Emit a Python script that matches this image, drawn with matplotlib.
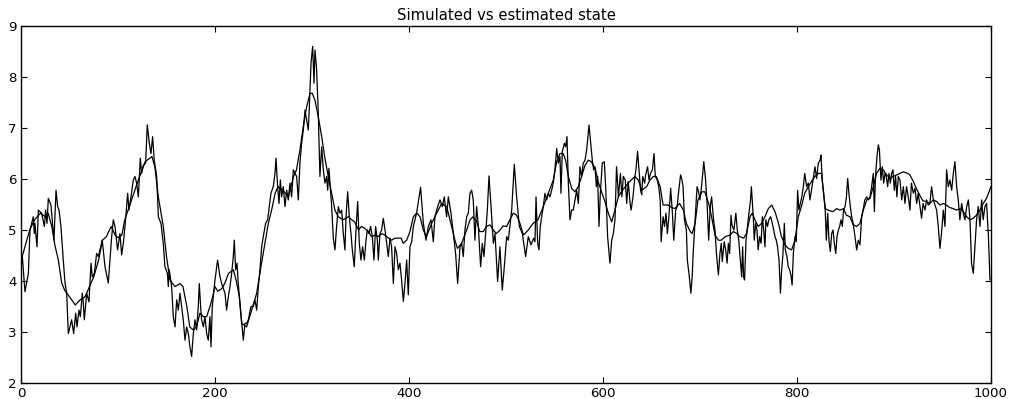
import matplotlib
matplotlib.use("Agg")
import matplotlib.pyplot as plt

# simulated state (noisy): time index / value
sim_t = [0, 1.4, 4.1, 7.6, 9.3, 12.7, 13.7, 14.4, 16.5, 17.9, 21.3, 24.1, 25.4, 26.8, 28.2, 30.9,
         34, 36.1, 37.8, 39.2, 41.2, 43.6, 45.4, 47.1, 48.8, 50.5, 52.2, 54.3, 56.4, 57.7, 59.8,
         61.2, 63.2, 64.3, 65.3, 67.7, 70.1, 72.2, 73.5, 75.6, 78, 79.7, 83.8, 86.6, 90, 91.7,
         93.5, 95.2,
         96.9, 99.6, 102, 103.8, 105.5, 107.2, 110, 111.3, 113.4, 115.8, 117.5, 119.2, 121, 123,
         124.4, 126.1, 128.5, 130.2, 132.3, 134, 135.7, 137.4, 139.9, 141.6, 144.3, 146.7, 148.4,
         150.9, 151.9, 152.9, 155.3, 157, 158.8, 160.5, 162.2, 163.9, 165.6, 167.3, 169.1, 170.8,
         172.5, 174.2, 175.9, 177.7, 179.4, 181.1, 182.8, 183.8, 185.2, 186.2, 188, 189.7, 191.4,
         193.1, 194.8, 195.9, 197.2, 200,
         202.7, 205.2, 206.9, 210.3, 212, 213.7, 215.5, 217.2, 218.9, 219.9, 221.3, 222.7, 224,
         225.8, 227.5, 229.2, 230.9, 232.6, 234.4, 237.1, 239.5, 241.2, 243, 244.7, 246.4, 248.1,
         249.8, 252.2, 254.3, 256, 257.7, 260.1, 261.9, 262.9, 264.6, 266, 267.4, 268.7, 270.4,
         272.2, 273.9, 275.6, 277.3, 279, 280.8, 282.5, 284.2, 285.9, 287.6, 289.3, 291.1, 292.8,
         294.5, 296.2, 297.3, 299, 300.7, 302.1, 303.1, 304.8, 306.5, 308.2, 310, 311.7, 313.4,
         315.1, 316.2, 317.5, 320.3, 322, 323.7, 325.4, 327.2, 328.9, 330.6, 332.3, 334, 335.1,
         336.8, 338.5, 340.2, 341.6, 343.6, 345.4, 347.1, 348.8, 350.5, 352.2, 354, 355.7, 357.1,
         358.8, 360.5, 362.2, 363.9, 365.6, 367.4, 368.4, 370.1, 371.8, 373.5, 375.3, 377, 378.7,
         380.4, 382.1, 383.9, 385.6, 387.3, 389, 390.7, 392.4, 394.2, 395.9, 397.6, 399.3, 401,
         402.8, 404.5,
         406.2, 408, 412, 414.8, 417.5, 420, 422.7, 425.1, 426.8, 429.6, 432, 434.4, 436.4, 438.8,
         440.6, 443.3, 445.7, 448.1, 450.2, 452.6, 454.3, 456, 457.7, 459.5, 461.2, 462.9, 464.6,
         466.3, 468, 469.8, 471.5, 473.9, 475.6, 477.3, 479, 480.8, 482.5, 484.6, 487, 488.7,
         491.4, 493.8, 496.2, 498.3, 500.7, 502.4, 505.9, 508.6,
         511, 513.8, 516.9, 518.9, 520.3, 523, 525.8, 528.5, 529.9, 531, 532.7, 534, 535.4, 536.8,
         538.5, 540.2, 542, 543.7, 545.4, 547.1, 548.8, 550.5, 552.3, 554, 555.7, 556.7, 558.1,
         560.2, 561.5, 562.9, 564.3, 566, 567.7, 569.4, 571.2, 572.9, 574.6, 576.3, 578, 579.7,
         581.5, 583.2, 585.6, 587.7, 589, 590.4, 591.8, 593.2, 594.5, 595.9, 597.3, 599.3, 601.4,
         602.8, 604.8, 606.2, 607.2, 609, 610.7,
         612.4, 614, 616, 618, 619.6, 621, 623, 624.5, 626, 628, 629, 631, 632.7, 634, 635.7,
         637.4, 638.8, 640, 641, 643, 644, 646, 647.5, 649, 651, 652.6, 654, 656, 657.5, 659, 660,
         662, 663.5, 665, 666.4, 668, 669.8, 671.6, 673, 675, 676.5, 678, 680, 681.5, 682.6, 684,
         686, 687, 689, 690.6, 692, 693, 694.6, 697, 698.6, 700, 701.6, 704, 705.8, 707.5, 709,
         710.6, 712, 714,
         715.5, 717, 719, 720.6, 722, 723, 725, 726.5, 728, 729.3, 730.6, 732, 733, 735, 737,
         738.5, 740, 741.6, 743, 744, 745, 746, 747.5, 749, 750.5, 752, 753, 755, 756, 757.4,
         758.8, 760, 761.5, 763, 764.3, 765.7, 767, 768, 769.6, 771, 772.9, 774.6, 776, 777.4,
         778.7, 780, 781.5, 783, 784, 785.6, 787, 788, 789.7, 791, 792.5, 794, 795, 796.3, 798,
         799.3, 800.7, 802, 803.5, 805, 806.6, 808, 810, 811.7, 813.4, 815,
         818.6, 820.3, 822, 823.8, 824.8, 826, 827.5, 829, 830.3, 831.7, 833, 834.4, 835.8, 837.2,
         838.5, 840, 841.3, 842.7, 844, 845.4, 846.8, 848, 849.6, 851, 852.3, 853.6, 855, 856.4,
         858, 859.8, 861.6, 863.3, 865, 866.7, 868.4, 870, 871.9, 873.6, 875.3, 877, 878.7, 879.8,
         881, 882.5, 883.9, 885, 886.6, 888, 889.4, 890.8, 892.1, 893.5, 894.9, 896.3, 897.6, 899,
         900.4, 901.7, 903, 904.5,
         906.2, 908, 909.7, 911.4, 913, 914.8, 916.5, 918, 920, 921.7, 923.4, 925, 926.8, 928.5,
         930, 932, 933.7, 935.4, 937, 938.8, 940.6, 942.3, 944, 945.7, 947.4, 949, 950.9, 952.6,
         954.3, 956, 957.7, 959.5, 961.2, 962.9, 964.6, 966.3, 968, 969.8, 971.5, 973.2, 975,
         976.7, 978.4, 980, 981.8, 983.5, 985.2, 986.9, 988.7, 990.4, 992, 993.8, 995.5, 997.3, 999]
sim_x = [4.22, 4.48, 3.79, 4.15, 5.0, 5.26, 4.93, 5.13, 4.67, 5.39, 5.33, 5.07, 5.39, 5.13, 5.62, 5.49,
         4.8, 5.78, 5.46, 5.39, 5.07, 4.41, 3.96, 3.76, 2.97, 3.1, 3.24, 2.97, 3.37, 3.1, 3.43,
         3.3, 3.76, 3.56, 3.24, 3.76, 3.59, 4.35, 4.08, 4.15, 4.54, 4.48, 4.8, 4.28, 3.96, 4.41,
         4.87, 5.2,
         5.07, 4.61, 4.93, 4.51, 4.74, 5.07, 5.72, 5.39, 5.65, 5.98, 6.05, 5.92, 5.65, 6.41,
         6.11, 6.27, 6.31, 7.06, 6.7, 6.5, 6.83, 6.37, 6.05, 5.26, 5.13, 4.74, 4.28,
         4.15, 3.89, 4.22, 3.89, 3.3, 3.1, 3.63, 3.43, 3.76, 3.5, 3.24, 2.84, 3.1,
         2.97, 2.71, 2.52, 2.97, 3.24, 3.04, 3.5, 3.95, 3.5, 3.24, 3.1, 3.3, 2.97,
         2.84, 3.3, 2.71, 3.5, 4.02,
         4.41, 4.08, 3.95, 3.76, 3.43, 3.69, 3.89, 4.15, 4.48, 4.8, 4.22, 4.35, 3.95,
         3.56, 3.17, 2.84, 3.17, 3.17, 3.24, 3.5, 3.5, 3.63, 3.43, 3.89, 4.22, 4.67,
         4.87, 5.13, 5.2, 5.46, 5.72, 5.85, 6.11, 6.41, 5.85, 5.52, 5.98, 5.65, 5.85,
         5.46, 5.78, 5.59, 5.92, 5.65, 6.18, 6.11, 6.05, 5.59, 6.31, 6.7, 6.96, 7.35,
         7.16, 6.96, 7.42, 8.27, 8.6, 7.88, 8.53, 8.14, 7.29, 6.05, 6.63, 6.18, 5.92,
         6.05, 5.78, 6.21, 5.46, 4.84, 4.61, 5.07, 5.46, 5.33, 5.39, 4.93, 4.61, 5.26,
         5.75, 5.26, 4.93, 4.61, 4.28, 5.0, 5.56, 4.74, 4.41, 4.67, 4.41, 4.8, 5.0,
         4.93, 5.07, 4.87, 4.41, 5.07, 4.8, 4.41, 4.93, 5.0, 5.23, 5.0, 4.74, 4.48,
         4.84, 4.67, 3.95, 4.67, 4.54, 4.22, 4.35, 4.02, 3.6, 3.95, 4.41, 3.73, 4.67,
         4.77, 5.07,
         5.2, 5.35, 5.84, 5.13, 4.8, 5.07, 5.2, 4.77, 5.26, 5.46, 5.59, 5.46, 5.65, 5.26,
         5.65, 5.33, 4.93, 4.54, 3.95, 4.67, 4.74, 4.48, 5.0, 5.26, 5.33, 5.72, 5.78,
         5.59, 4.8, 5.46, 5.07, 4.28, 4.74, 4.48, 4.93, 5.39, 6.06, 5.46, 4.74, 4.93,
         3.99, 4.67, 3.82, 4.28, 4.87, 4.8, 5.39, 6.29,
         5.65, 5.07, 4.93, 4.67, 4.48, 4.87, 4.71, 4.84, 4.77, 5.65, 4.74, 4.61, 5.07, 5.26,
         5.46, 5.72, 5.59, 5.72, 5.65, 5.78, 5.92, 6.18, 6.6, 6.31, 6.44, 5.72, 6.54,
         6.7, 6.63, 6.83, 5.92, 5.2, 5.39, 5.39, 5.59, 5.78, 5.52, 6.24, 6.05, 6.31,
         6.37, 6.57, 7.06, 6.63, 6.37, 6.18, 6.24, 5.85, 6.05, 5.07, 5.72, 6.31, 6.34,
         5.85, 4.87, 4.58, 4.35, 4.8, 4.93,
         5.2, 6.24, 5.65, 6.11, 5.65, 6.05, 5.98, 5.52, 5.95, 5.52, 5.39, 5.65, 6.01, 6.18, 6.54,
         6.11, 5.78, 5.69, 6.05, 5.92, 6.08, 6.24, 5.98, 6.11, 6.18, 6.5, 6.05, 5.98, 5.85, 5.59, 4.77,
         5.26, 5.07, 5.33, 4.93, 5.26, 5.82, 5.33, 4.8, 5.39, 5.46, 5.75, 6.08, 5.98, 5.85, 5.2,
         5.0, 4.41, 4.09, 3.76, 4.09, 4.54, 5.07, 5.85, 5.75, 5.59, 5.85, 6.34, 5.98, 5.46, 4.8,
         5.46, 5.65, 5.2,
         5.0, 4.54, 4.12, 4.54, 4.74, 4.38, 4.77, 4.61, 4.35, 4.74, 4.54, 5.29, 5.1, 5.0, 5.33,
         5.0, 4.8, 4.41, 4.08, 4.67, 4.08, 4.02, 4.8, 5.07, 5.33, 5.56, 5.85, 5.26, 4.8, 5.13,
         5.0, 4.61, 4.87, 4.74, 5.26, 5.0, 4.67, 5.2, 5.07, 5.2, 5.26, 5.13, 5.0, 4.87,
         4.8, 4.67, 4.41, 3.76, 4.15, 4.54, 5.13, 4.61, 4.48, 4.28, 4.22, 4.09, 3.92, 4.54, 4.87,
         4.77, 5.78, 5.39, 5.52, 5.65, 5.85, 6.11, 5.85, 5.92, 5.59, 5.78,
         6.24, 6.01, 6.31, 6.37, 6.47, 5.98, 5.72, 5.46, 4.8, 5.33, 4.8, 4.58, 4.93, 5.0,
         4.74, 4.54, 4.87, 5.0, 5.07, 5.2, 5.07, 5.39, 5.46, 5.65, 6.01, 5.72, 5.46, 5.26,
         5.13, 4.87, 4.61, 4.8, 4.71, 5.26, 5.42, 5.59, 5.65, 5.59, 5.65, 5.85, 6.11, 5.36,
         6.05, 6.44, 6.67, 6.57, 5.98, 6.24, 5.92, 6.11, 6.05, 5.85, 6.11, 5.92, 6.11, 6.18,
         5.78, 6.05, 5.65, 6.05,
         5.98, 5.59, 5.85, 5.52, 5.85, 5.65, 5.39, 5.92, 5.72, 5.82, 5.52, 5.72, 5.46, 5.23,
         5.52, 5.39, 5.59, 5.49, 5.52, 5.85, 5.59, 5.49, 5.39, 5.07, 4.64, 4.93, 5.39, 5.07,
         6.18, 5.85, 5.98, 5.78, 6.11, 6.34, 5.85, 5.59, 5.2, 5.52, 5.33, 5.2, 5.46,
         5.59, 5.2, 4.35, 4.15, 4.67, 5.2, 5.46, 5.07, 5.59, 5.2, 5.46, 5.52, 4.93, 4.02]

# estimated state (smooth)
est_t = [0, 9, 14, 20, 25, 28, 32, 35, 38.5, 42, 45, 50, 56, 61, 66, 69, 75, 80, 84, 88, 93, 97,
         100, 104, 107, 114, 121, 128, 135, 138, 141.6, 146.7, 150, 153.6, 158.8, 164, 167, 171,
         174, 177.7, 181, 184.5, 188, 191.4, 194.8, 197.6, 200, 203, 207, 210, 214, 219, 222, 225,
         227.5, 232.6, 237.8, 243, 248, 251.5, 255, 258.4, 262, 265, 270, 275.6, 281, 284, 287.6,
         291, 294.5, 298, 300.3, 303, 306.5, 310, 313.4, 316.8, 320.3, 323.7, 327, 332, 337.5,
         341, 344, 348, 351, 354.6, 358, 361.5, 365, 368, 372, 375, 379, 382, 385.6, 389, 392,
         394, 397.6, 401, 404.5, 408, 411.4, 414.8, 418, 423.4, 428.5, 433.7, 438.8, 444, 447.4,
         450, 454.3, 459.5, 463, 466, 470, 473, 476.6, 480, 483.5, 487, 490, 494, 497, 500.7, 504,
         507.6, 511, 514.4, 518, 523, 528, 533, 538.5, 543.7, 548.8, 552.3, 555.7, 559, 561.5,
         564.3, 567.7, 571, 574.6, 578, 581.5, 585, 588, 592, 595, 598.6, 602, 605.5, 609, 612.4,
         615.8, 619, 626, 633, 636.5, 640, 645, 648.5, 652, 655, 659, 662, 667, 671, 674, 679, 683,
         686, 690, 692, 695, 698, 702, 705, 709, 712, 715.5, 719, 722, 726, 731, 734.4, 738, 741,
         745, 748, 751.6, 754, 756.7, 760, 763.6, 767, 770.5, 774, 777.4, 781, 784, 787.7, 791,
         794.5, 798, 801.4, 805, 808, 811.7, 815, 818.6, 822, 825.5, 829, 832, 837, 841, 844.4,
         848, 851, 854.7, 858, 861.6, 865, 868.4, 872, 875.3, 878.7, 882, 885.6, 889, 892.5, 896,
         899, 903, 906, 909.7, 913, 916.5, 920, 923.4, 927, 930, 933.7, 937, 940.6, 944, 947.4,
         951, 954, 957.7, 961, 964.6, 968, 971.5, 975, 978.4, 981.8, 985, 988.7, 992, 995.5, 1000]
est_x = [4.4, 5.0, 5.2, 5.33, 5.26, 5.33, 5.05, 4.7, 4.41, 3.96, 3.82, 3.69, 3.53, 3.63, 3.69, 3.82,
         4.08, 4.41, 4.8, 4.87, 5.07, 4.9, 4.85, 4.9, 5.2, 5.59, 5.98, 6.34, 6.44, 6.24, 5.65, 5.07,
         4.48, 4.02, 3.89, 3.95, 3.89, 3.5, 3.1, 3.04, 3.1, 3.37, 3.3, 3.3, 3.5, 3.69, 3.89, 3.8,
         3.85, 3.95, 4.15, 4.22, 4.0, 3.7, 3.17, 3.1, 3.43, 3.76, 4.35, 4.74, 5.13, 5.39, 5.72,
         5.85, 5.78, 5.65, 6.05, 6.18, 6.57, 7.03, 7.42, 7.68, 7.68, 7.55, 7.22, 6.83, 6.4, 6.05,
         5.72, 5.39, 5.26, 5.2, 5.26, 5.2, 5.16, 5.0, 5.07, 5.03, 4.97, 4.87, 4.9, 4.87, 4.93, 4.9,
         4.84, 4.8, 4.84, 4.84, 4.84, 4.74, 4.8, 4.97, 5.26, 5.33, 5.26, 5.0, 4.87, 5.13, 5.33,
         5.52, 5.46, 5.07, 4.8, 4.64, 4.74, 5.0, 5.2, 5.26, 5.16, 4.97, 4.97, 5.07, 5.1, 5.0, 4.93,
         5.0, 5.08, 5.07, 5.2, 5.33, 5.29, 5.13, 4.9, 5.0, 5.13, 5.2, 5.46, 5.72, 5.98, 6.34, 6.5,
         6.5, 6.37, 6.05, 5.82, 5.75, 5.85, 6.05, 6.27, 6.37, 6.34, 6.21, 5.95, 5.75, 5.56, 5.33,
         5.16, 5.39, 5.65, 5.75, 5.92, 6.05, 5.98, 5.78, 5.85, 5.98, 6.05, 6.05, 5.85, 5.49, 5.49,
         5.44, 5.42, 5.52, 5.39, 5.13, 4.97, 4.93, 5.13, 5.59, 5.75, 5.75, 5.52, 5.26, 4.9, 4.8,
         4.8, 4.87, 4.9, 4.97, 4.93, 4.87, 4.84, 4.93, 5.26, 5.33, 5.2, 5.07, 5.13, 5.26, 5.42,
         5.49, 5.36, 5.13, 4.87, 4.71, 4.64, 4.61, 4.8, 5.26, 5.49, 5.72, 5.85, 5.95, 6.05, 6.11,
         6.11, 5.42, 5.39, 5.36, 5.42, 5.39, 5.42, 5.29, 5.26, 5.1, 5.07, 5.13, 5.39, 5.59, 5.62,
         5.85, 6.11, 6.21, 6.18, 6.08, 6.01, 6.05, 6.08, 6.11, 6.14, 6.12, 6.08, 5.95, 5.8, 5.67,
         5.57, 5.56, 5.52, 5.59, 5.56, 5.49, 5.52, 5.49, 5.44, 5.42, 5.39, 5.42, 5.36, 5.26, 5.2,
         5.23, 5.29, 5.39, 5.52, 5.62, 5.85]

fig = plt.figure(figsize=(10.09, 3.99), dpi=100)
ax = fig.add_axes([0.0208, 0.0401, 0.9613, 0.8947])

ax.plot(sim_t, sim_x, color='black', lw=0.9)
ax.plot(est_t, est_x, color='black', lw=0.9)

ax.set_xlim(0, 1000)
ax.set_ylim(2, 9)
ax.set_xticks([0, 200, 400, 600, 800, 1000])
ax.set_yticks([2, 3, 4, 5, 6, 7, 8, 9])
ax.tick_params(direction='in', length=4, width=0.8, top=True, right=True,
               labelsize=9.6, pad=3, colors='black')
for s in ax.spines.values():
    s.set_linewidth(1.0)

ax.set_title('Simulated vs estimated state', fontsize=10.7, pad=4)

plt.savefig('out.png', dpi=100)
